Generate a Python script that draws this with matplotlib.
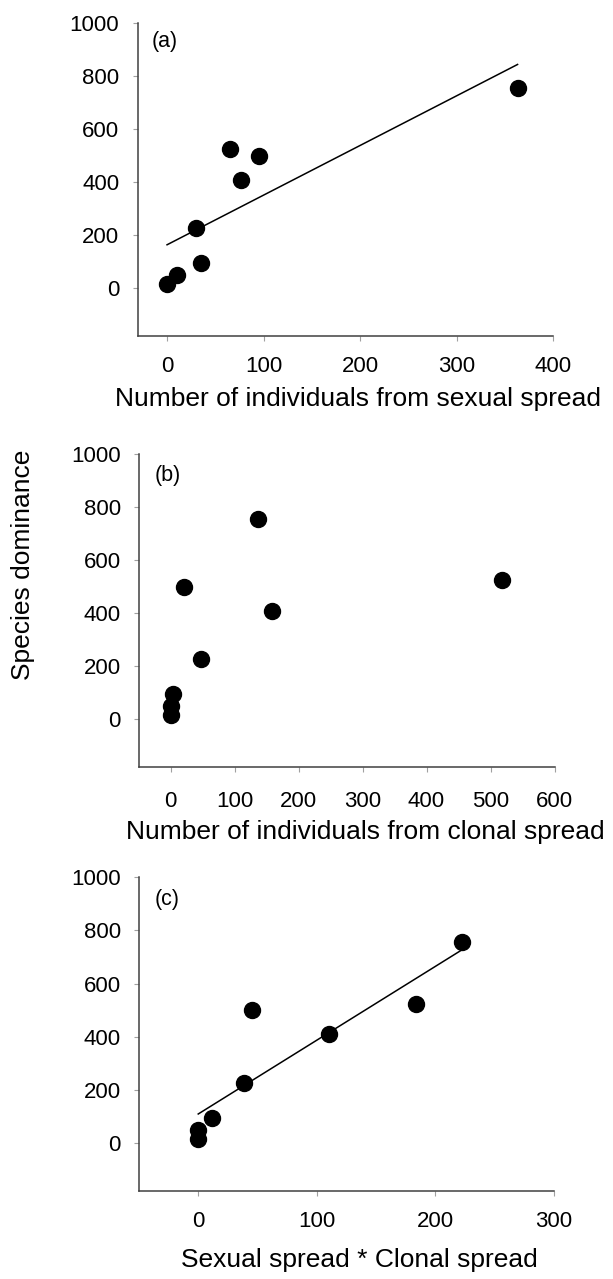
import numpy as np
import matplotlib
matplotlib.use("Agg")
import matplotlib.pyplot as plt

plt.rcParams['font.family'] = ['Liberation Sans', 'DejaVu Sans']

# ---- data ----
dominance = [15, 50, 95, 226, 500, 755, 409, 524]
sexual_spread = [0, 10, 35, 30, 95, 363, 77, 65]
clonal_spread = [0, 0, 4, 48, 21, 137, 158, 518]
sex_x_clonal = [0, 0, 12, 38.5, 45, 222, 110, 183.5]

panel_labels = ["(a)", "(b)", "(c)"]
x_labels = ["Number of individuals from sexual spread",
            "Number of individuals from clonal spread",
            "Sexual spread * Clonal spread"]
y_label = "Species dominance"
y_ticks = [0, 200, 400, 600, 800, 1000]
x_ticks_a = [0, 100, 200, 300, 400]
x_ticks_b = [0, 100, 200, 300, 400, 500, 600]
x_ticks_c = [0, 100, 200, 300]

W, H = 613, 1279
fig = plt.figure(figsize=(W / 100, H / 100), dpi=100)

def px_axes(left, right, top, bottom):
    return fig.add_axes([left / W, 1 - bottom / H, (right - left) / W, (bottom - top) / H])

specs = [
    dict(box=(137.5, 553.3, 23.3, 335.7), x=sexual_spread, xlim=(-30.6, 400), xt=x_ticks_a,
         fit=True, xpad=10.8, lab=(0.53, -0.164), plab=(0.034, 0.943)),
    dict(box=(139.0, 554.5, 454.0, 766.7), x=clonal_spread, xlim=(-49.5, 600), xt=x_ticks_b,
         fit=False, xpad=13.7, lab=(0.544, -0.170), plab=(0.037, 0.932)),
    dict(box=(139.3, 554.0, 877.3, 1191.0), x=sex_x_clonal, xlim=(-49.7, 300), xt=x_ticks_c,
         fit=True, xpad=10.8, lab=(0.53, -0.182), plab=(0.038, 0.929)),
]

for i, s in enumerate(specs):
    ax = px_axes(*s['box'])
    x = np.array(s['x'], dtype=float)
    y = np.array(dominance, dtype=float)
    ax.plot(x, y, 'o', color='black', markersize=11.5, zorder=3)
    if s['fit']:
        slope, intercept = np.polyfit(x, y, 1)
        xs = np.array([x.min(), x.max()])
        ax.plot(xs, slope * xs + intercept, color='black', lw=1.1, zorder=2)
    ax.set_xlim(*s['xlim'])
    ax.set_ylim(-180, 1000)
    ax.set_xticks(s['xt'])
    ax.set_yticks(y_ticks)
    for side in ['top', 'right']:
        ax.spines[side].set_visible(False)
    for side in ['left', 'bottom']:
        ax.spines[side].set_color('#404040')
        ax.spines[side].set_linewidth(1.1)
    ax.tick_params(axis='both', direction='out', length=3.6, width=0.8,
                   color='#a0a0a0', labelsize=16, labelcolor='black')
    ax.tick_params(axis='x', pad=s['xpad'])
    ax.tick_params(axis='y', pad=9.6)
    ax.set_xlabel(x_labels[i], fontsize=19)
    ax.xaxis.set_label_coords(*s['lab'])
    ax.text(s['plab'][0], s['plab'][1], panel_labels[i], transform=ax.transAxes,
            ha='left', va='center', fontsize=15.5)

fig.text(23 / W, 1 - 565 / H, y_label, rotation=90, ha='center', va='center', fontsize=19)

fig.savefig("out.png", dpi=100)
